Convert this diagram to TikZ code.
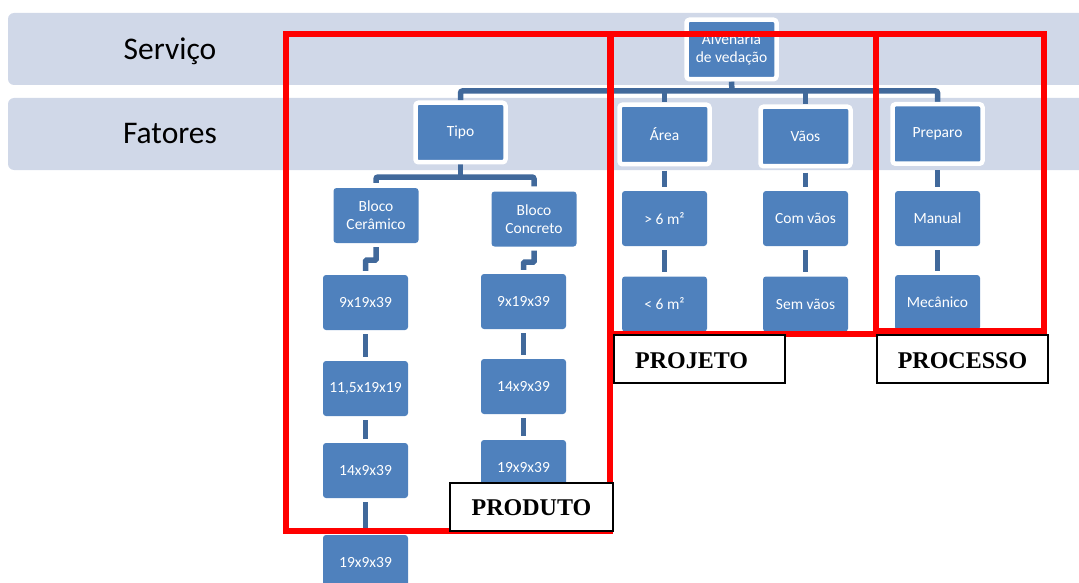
\documentclass[tikz,border=0pt]{standalone}
\usepackage{fontspec}
\setmainfont{Carlito}
\newfontfamily\labelfont{Liberation Serif}
\definecolor{bandblue}{HTML}{D0D8E8}
\definecolor{nodeblue}{HTML}{4F81BD}
\definecolor{linkblue}{RGB}{65,105,155}
\pgfdeclarelayer{bands}
\pgfdeclarelayer{links}
\pgfsetlayers{bands,links,main}
\begin{document}
\begin{tikzpicture}[x=1pt,y=-1pt,
  band/.style={fill=bandblue, rounded corners=6pt},
  rowlabel/.style={anchor=base, font=\fontsize{31.5}{36}\selectfont, text=black},
  box/.style={fill=nodeblue, rounded corners=3pt, minimum width=85pt, minimum height=55pt,
    inner sep=0pt, text=white, align=center, font=\fontsize{15.5}{18}\selectfont},
  topbox/.style={box, draw=white, line width=4.5pt, minimum width=90pt, minimum height=59.5pt},
  link/.style={draw=linkblue, line width=5.5pt},
  gap/.style={shorten >=4pt, shorten <=4pt},
  frame/.style={draw=red, line width=6pt},
  tag/.style={draw=black, line width=2pt, fill=white, inner sep=0pt},
  tagtext/.style={font=\labelfont\bfseries\fontsize{24}{28}\selectfont, inner sep=0pt}
]
\clip (0,0) rectangle (1079,583);

% row bands
\begin{pgfonlayer}{bands}
\path[band] (8,13) rectangle (1095,85);
\path[band] (8,98) rectangle (1095,170);
\end{pgfonlayer}
\node[rowlabel] (servico) at (170,60) {Serviço};
\node[rowlabel] (fatores) at (170,144) {Fatores};

% hierarchy nodes
\node[topbox] (root) at (731.5,49.5) {Alvenaria\\de vedação};
\node[topbox] (tipo) at (460.5,132.5) {Tipo};
\node[topbox] (area) at (664.5,134.5) {Área};
\node[topbox] (vaos) at (805.5,136.5) {Vãos};
\node[topbox] (preparo) at (937.5,134) {Preparo};

\node[box] (bc) at (376,215.5) {Bloco\\Cerâmico};
\node[box] (bk) at (534,219) {Bloco\\Concreto};
\node[box] (c1) at (365.5,302.5) {9x19x39};
\node[box] (c2) at (365.5,388.5) {11,5x19x19};
\node[box] (c3) at (365.5,470.5) {14x9x39};
\node[box] (c4) at (365.5,562.5) {19x9x39};
\node[box] (k1) at (523.5,301.5) {9x19x39};
\node[box] (k2) at (523.5,386.5) {14x9x39};
\node[box] (k3) at (523.5,467.5) {19x9x39};

\node[box] (g6) at (664.5,218.5) {> 6 m²};
\node[box] (l6) at (664.5,304) {< 6 m²};
\node[box] (com) at (805.5,218.5) {Com vãos};
\node[box] (sem) at (805.5,304) {Sem vãos};
\node[box] (manual) at (937.5,218.5) {Manual};
\node[box] (mec) at (937.5,302.5) {Mecânico};

% connectors, behind the nodes
\begin{pgfonlayer}{links}
\coordinate (bus) at (732,91);
\coordinate (tbus) at (460.5,177);
\draw[link] (root.south) -- (bus);
\draw[link, rounded corners=2pt] (tipo.north) |- (bus) -| (preparo.north);
\draw[link] (bus -| area.north) -- (area.north);
\draw[link] (bus -| vaos.north) -- (vaos.north);

\draw[link] (tipo.south) -- (tbus);
\draw[link, rounded corners=2pt, shorten <=5pt, shorten >=5pt] (bc.north) |- (tbus) -| (bk.north);

\draw[link, gap, rounded corners=1pt] (bc.south) -- ++(0,17) -| (c1.north);
\draw[link, gap, rounded corners=1pt] (bk.south) -- ++(0,15.5) -| (k1.north);

\draw[link, gap] (c1.south) -- (c2.north);
\draw[link, gap] (c2.south) -- (c3.north);
\draw[link, gap] (c3.south) -- (c4.north);
\draw[link, gap] (k1.south) -- (k2.north);
\draw[link, gap] (k2.south) -- (k3.north);

\draw[link, gap] (area.south) -- (g6.north);
\draw[link, gap] (g6.south) -- (l6.north);
\draw[link, gap] (vaos.south) -- (com.north);
\draw[link, gap] (com.south) -- (sem.north);
\draw[link, gap] (preparo.south) -- (manual.north);
\draw[link, gap] (manual.south) -- (mec.north);
\end{pgfonlayer}

% red grouping frames
\draw[frame] (286,34) rectangle (610,531);
\draw[frame] (611,34) rectangle (876,334);
\draw[frame] (876,34) rectangle (1044,331);

% group tags
\node[tag, minimum width=171pt, minimum height=48pt] (projeto) at (699.5,359) {};
\node[tagtext, anchor=base west] (projetotxt) at ([xshift=22pt,yshift=-9pt]projeto.west) {PROJETO};
\node[tag, minimum width=171pt, minimum height=48pt] (processo) at (962.5,359) {};
\node[tagtext, anchor=base] (processotxt) at ([yshift=-9pt]processo.center) {PROCESSO};
\node[tag, minimum width=163pt, minimum height=48pt] (produto) at (531.5,507) {};
\node[tagtext, anchor=base] (produtotxt) at ([yshift=-8pt]produto.center) {PRODUTO};
\end{tikzpicture}
\end{document}
